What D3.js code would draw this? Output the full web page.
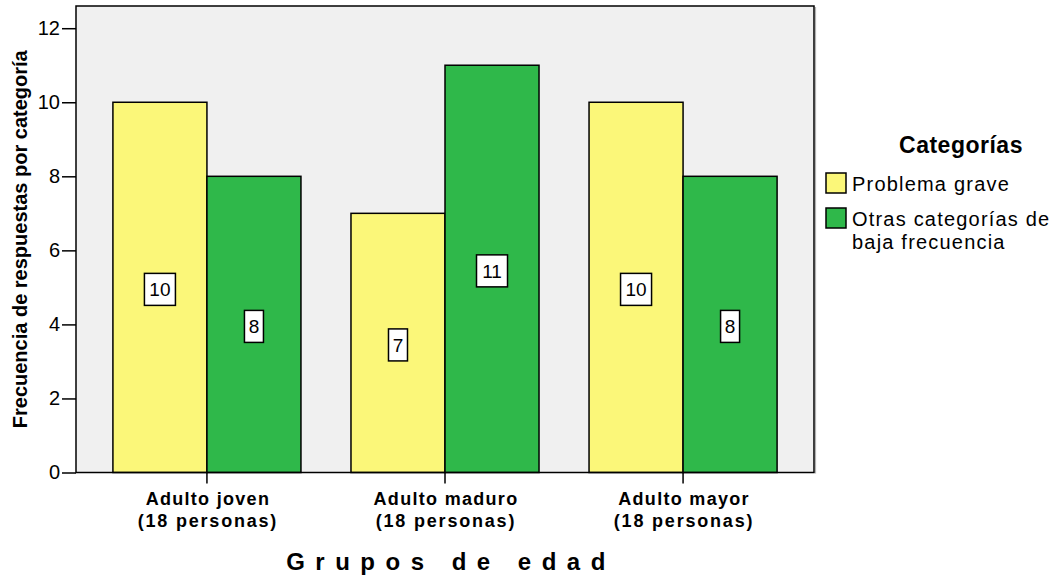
<!DOCTYPE html>
<html>
<head>
<meta charset="utf-8">
<script src="https://cdn.jsdelivr.net/npm/d3@7"></script>
<style>
  html, body { margin: 0; padding: 0; background: #fff; }
  svg { display: block; font-family: "Liberation Sans", Arial, sans-serif; }
</style>
</head>
<body>
<svg id="chart" width="1055" height="579"></svg>
<script>
// Age groups and response counts per category
const groups = ["Adulto joven", "Adulto maduro", "Adulto mayor"];
const groupNotes = ["(18 personas)", "(18 personas)", "(18 personas)"];
const seriesNames = ["Problema grave", "Otras categorías de baja frecuencia"];
const problemaGrave = [10, 7, 10];
const otrasCategorias = [8, 11, 8];
const yTicks = [0, 2, 4, 6, 8, 10, 12];
const colors = ["#fbf779", "#2fb84a"];

const svg = d3.select("#chart");
const plot = { left: 76, right: 814, top: 6, bottom: 472.5 };

const x0 = d3.scaleBand()
  .domain(groups)
  .range([plot.left, plot.right])
  .paddingInner(0)
  .paddingOuter(0.05);

const x1 = d3.scaleBand()
  .domain(seriesNames)
  .range([0, x0.bandwidth()])
  .paddingInner(0)
  .paddingOuter(0.266);

const y = d3.scaleLinear()
  .domain([0, 12.6])
  .range([plot.bottom, plot.top]);

// Plot background
svg.append("rect")
  .attr("x", plot.left).attr("y", plot.top)
  .attr("width", plot.right - plot.left)
  .attr("height", plot.bottom - plot.top)
  .attr("fill", "#f0f0f0");

const rows = groups.map((g, i) => ({
  group: g,
  values: [problemaGrave[i], otrasCategorias[i]]
}));

const gGroups = svg.append("g").selectAll("g")
  .data(rows)
  .join("g")
  .attr("transform", d => `translate(${x0(d.group)},0)`);

gGroups.selectAll("rect")
  .data(d => d.values.map((v, k) => ({ key: seriesNames[k], k, v })))
  .join("rect")
  .attr("x", d => x1(d.key))
  .attr("y", d => y(d.v))
  .attr("width", x1.bandwidth())
  .attr("height", d => y(0) - y(d.v))
  .attr("fill", d => colors[d.k])
  .attr("stroke", "#000")
  .attr("stroke-width", 1.5);

// Value labels in boxes at mid-height of each bar
const labels = gGroups.selectAll("g.lbl")
  .data(d => d.values.map((v, k) => ({ key: seriesNames[k], k, v })))
  .join("g")
  .attr("class", "lbl")
  .attr("transform", d => `translate(${x1(d.key) + x1.bandwidth() / 2},${y(d.v / 2) + 2})`);

labels.append("rect")
  .attr("x", d => -(String(d.v).length === 1 ? 9.5 : 15.5))
  .attr("y", -16)
  .attr("width", d => String(d.v).length === 1 ? 19 : 31)
  .attr("height", 32)
  .attr("fill", "#fff")
  .attr("stroke", "#000")
  .attr("stroke-width", 1.5);

labels.append("text")
  .attr("text-anchor", "middle")
  .attr("dy", "0.36em")
  .attr("font-size", 19)
  .attr("fill", "#000")
  .text(d => d.v);

// Frame
svg.append("rect")
  .attr("x", plot.left).attr("y", plot.top)
  .attr("width", plot.right - plot.left)
  .attr("height", plot.bottom - plot.top)
  .attr("fill", "none")
  .attr("stroke", "#000")
  .attr("stroke-width", 1.5);
svg.append("line")
  .attr("x1", plot.right + 1.6).attr("x2", plot.right + 1.6)
  .attr("y1", plot.top + 1).attr("y2", plot.bottom + 1)
  .attr("stroke", "#aaa").attr("stroke-width", 1);

// Y axis
const yAxis = svg.append("g")
  .attr("transform", `translate(${plot.left},0)`)
  .call(d3.axisLeft(y).tickValues(yTicks).tickSize(14).tickPadding(2).tickFormat(d3.format("d")));
yAxis.select(".domain").remove();
yAxis.selectAll("line").attr("stroke", "#000").attr("stroke-width", 1.5);
yAxis.selectAll("text")
  .attr("font-size", 20)
  .attr("font-family", "Liberation Sans, Arial, sans-serif")
  .attr("fill", "#000");

// X axis
const xAxis = svg.append("g")
  .attr("transform", `translate(0,${plot.bottom})`)
  .call(d3.axisBottom(x0).tickSize(11).tickFormat(""));
xAxis.select(".domain").remove();
xAxis.selectAll("line").attr("stroke", "#000").attr("stroke-width", 1.5);

const xl = svg.append("g").selectAll("text")
  .data(groups)
  .join("text")
  .attr("x", d => x0(d) + x0.bandwidth() / 2)
  .attr("y", 505)
  .attr("text-anchor", "middle")
  .attr("font-size", 18)
  .attr("font-weight", "bold")
  .attr("letter-spacing", 1.3)
  .attr("fill", "#000");
xl.append("tspan").attr("x", d => x0(d) + x0.bandwidth() / 2 + 1).text(d => d);
xl.append("tspan").attr("x", d => x0(d) + x0.bandwidth() / 2 + 1).attr("dy", 22)
  .attr("letter-spacing", 1.8)
  .text((d, i) => groupNotes[i]);

// Axis titles
svg.append("text")
  .attr("x", 451).attr("y", 570)
  .attr("text-anchor", "middle")
  .attr("font-size", 24)
  .attr("font-weight", "bold")
  .attr("letter-spacing", 10.5)
  .attr("fill", "#000")
  .text("Grupos de edad");

svg.append("text")
  .attr("transform", `translate(27,${(plot.top + plot.bottom) / 2}) rotate(-90)`)
  .attr("text-anchor", "middle")
  .attr("font-size", 20)
  .attr("font-weight", "bold")
  .attr("fill", "#000")
  .text("Frecuencia de respuestas por categoría");

// Legend
const legend = svg.append("g");
legend.append("text")
  .attr("x", 961).attr("y", 153)
  .attr("text-anchor", "middle")
  .attr("font-size", 23)
  .attr("font-weight", "bold")
  .attr("letter-spacing", 0.5)
  .attr("fill", "#000")
  .text("Categorías");

const legendRows = [
  { lines: ["Problema grave"], y: 173 },
  { lines: ["Otras categorías de", "baja frecuencia"], y: 208 }
];
legendRows.forEach((r, i) => {
  legend.append("rect")
    .attr("x", 826).attr("y", r.y)
    .attr("width", 20).attr("height", 20)
    .attr("fill", colors[i])
    .attr("stroke", "#000").attr("stroke-width", 1.5);
  r.lines.forEach((ln, j) => {
    legend.append("text")
      .attr("x", 852).attr("y", r.y + 18 + j * 23)
      .attr("font-size", 20)
      .attr("letter-spacing", 1.2)
      .attr("fill", "#000")
      .text(ln);
  });
});
</script>
</body>
</html>
